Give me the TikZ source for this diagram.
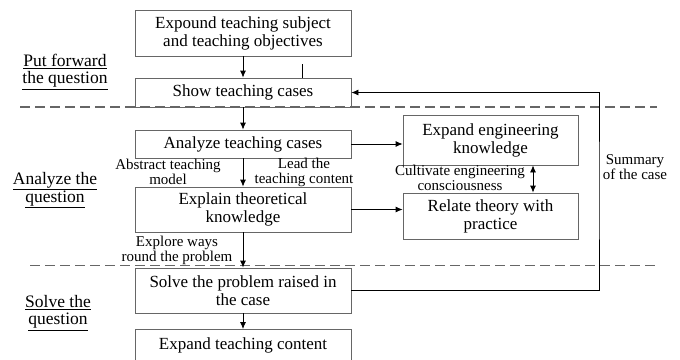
\documentclass[tikz,border=0pt]{standalone}
\usepackage{fontspec}
\setmainfont{Liberation Serif}
\usepackage{tikz}
\usetikzlibrary{arrows.meta,positioning}

\tikzset{
  stage/.style={draw=black!60,line width=0.8pt,minimum width=216pt,inner sep=1pt,align=center,
                font=\fontsize{17}{18}\selectfont},
  side/.style={stage,minimum width=175pt},
  note/.style={align=center,font=\fontsize{15}{15}\selectfont,inner sep=0pt},
  part/.style={align=center,font=\fontsize{17.5}{17}\selectfont,inner sep=0pt},
  divider/.style={black!60,line width=1.4pt,dash pattern=on 10pt off 5pt},
}

\begin{document}
\begin{tikzpicture}[x=1pt,y=-1pt,>={Latex[length=7pt,width=6pt]}]
  \useasboundingbox (0,0) rectangle (680,359);

  \node[stage,minimum height=46pt] (subj) at (243,33) {Expound teaching subject\\and teaching objectives};
  \node[stage,minimum height=29pt] (show) at (243,92.5) {Show teaching cases};
  \node[stage,minimum height=28pt] (anal) at (243,144) {Analyze teaching cases};
  \node[stage,minimum height=45pt] (expl) at (243,209.5) {Explain theoretical\\knowledge};
  \node[stage,minimum height=45pt] (solve) at (243,290.5) {Solve the problem raised in\\the case};
  \node[stage,minimum height=36pt,text depth=8pt,anchor=north] (more) at (243,329) {Expand teaching content};

  \node[side,minimum height=50pt] (eng) at (490.5,140) {Expand engineering\\knowledge};
  \node[side,minimum height=46pt] (prac) at (490.5,216) {Relate theory with\\practice};

  % stage borders
  \draw[divider] (20,107) -- (657,107);
  \draw[divider] (30,265.5) -- (657,265.5);

  \node[part] at (65,72) {\underline{Put forward}\\\underline{the question}};
  \node[part] at (55,190) {\underline{Analyze the}\\\underline{question}};
  \node[part] at (58,313) {\underline{Solve the}\\\underline{question}};

  \draw[->,thick] (subj) -- (show);
  \draw[->,thick] (show) -- (anal);
  \draw[->,thick] (anal) -- (expl);
  \draw[->,thick] (expl) -- (solve);
  \draw[->,thick] (solve) -- (more);
  \draw[thick] ([xshift=59pt]show.north) -- ++(0,-14);

  \draw[->,thick] (anal.east) -- (anal.east -| eng.west);
  \draw[->,thick] (expl.east) -- (expl.east -| prac.west);
  \draw[<->,thick] ([xshift=42.5pt]eng.south) -- ([xshift=42.5pt]prac.north);

  \coordinate (turn) at (599,190);
  \draw[->,thick] (solve.east) -| (turn) |- (show.east);

  \node[note] at (168,172) {Abstract teaching\\model};
  \node[note] at (304,172) {Lead the\\teaching content};
  \node[note] at (177,250.5) {Explore ways\\round the problem};
  \node[note] at (460,178) {Cultivate engineering\\consciousness};
  \node[note] at (635,167.5) {Summary\\of the case};
\end{tikzpicture}
\end{document}
